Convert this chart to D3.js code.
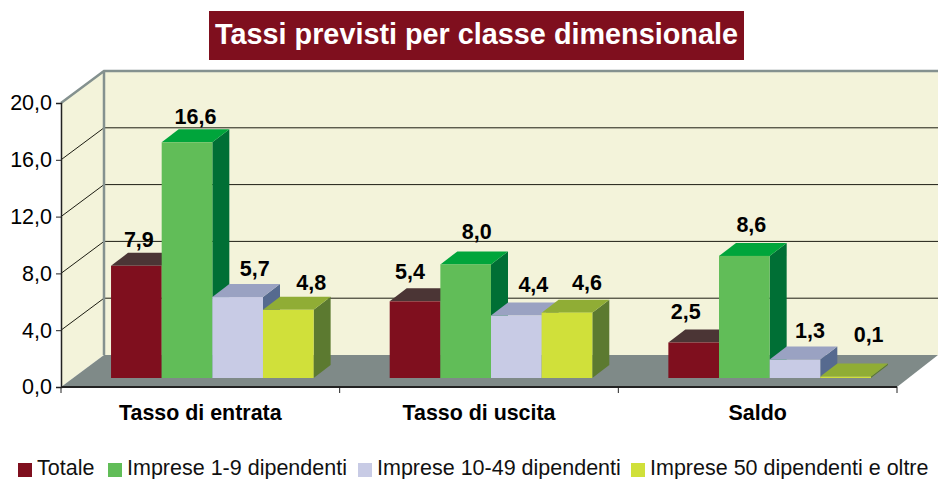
<!DOCTYPE html>
<html><head><meta charset="utf-8">
<script src="https://cdn.jsdelivr.net/npm/d3@7"></script>
<style>html,body{margin:0;padding:0;background:#fff}svg{display:block}text{font-family:"Liberation Sans",Arial,sans-serif}</style>
</head><body><div id="c"></div>
<script>
const titleText = "Tassi previsti per classe dimensionale";
const categories = ["Tasso di entrata","Tasso di uscita","Saldo"];
const seriesNames = ["Totale","Imprese 1-9 dipendenti","Imprese 10-49 dipendenti","Imprese 50 dipendenti e oltre"];
const totale = [7.9,5.4,2.5];
const imprese1 = [16.6,8.0,8.6];
const imprese10 = [5.7,4.4,1.3];
const imprese50 = [4.8,4.6,0.1];
const seriesValues = [totale,imprese1,imprese10,imprese50];
const yTicks = [0,4,8,12,16,20];
const frontColors = ["#7f0f1e","#61bd58","#c8cbe5","#d0e03a"];
const topColors = ["#4b3535","#00a53b","#9aa2c2","#90ad35"];
const sideColors = ["#4b3535","#006f35","#566a8f","#5c7a30"];
// hand-placed label nudges (px from the bar's top-front centre)
const labelDx = [[2.5,8.5,17,23],[-5,11,17,20],[-8,7,15,23]];
const labelDy = [[-19,-18,-21,-20],[-22,-25,-24,-23],[-24,-24,-22,-35]];
const legendX = [18,108,358,631];

const W=938,H=479;
const svg=d3.select("#c").append("svg").attr("width",W).attr("height",H);
const left=61,right=897,base=387,top20=103;
const wallDx=43,wallDy=-32,barShiftX=12,barShiftY=-9,barDx=17,barDy=-13;
const y=d3.scaleLinear().domain([0,20]).range([base,top20]);
const x0=d3.scaleBand().domain(categories).range([left,right]);
const barBlock=202.6;
const x1=d3.scaleBand().domain(d3.range(4)).range([0,barBlock]);
const pts=a=>a.map(p=>p.join(",")).join(" ");

svg.append("polygon").attr("points",pts([[left+wallDx,y(20)+wallDy],[W,y(20)+wallDy],[W,y(0)+wallDy],[left+wallDx,y(0)+wallDy]])).attr("fill","#f3f3da");
svg.append("polygon").attr("points",pts([[left,y(20)],[left+wallDx,y(20)+wallDy],[left+wallDx,y(0)+wallDy],[left,y(0)]])).attr("fill","#f3f3da");
svg.append("polygon").attr("points",pts([[left,base],[left+wallDx,base+wallDy],[W,base+wallDy],[right,base]])).attr("fill","#7f8a88");
yTicks.filter(t=>t>0&&t<20).forEach(t=>{
  svg.append("line").attr("x1",left+wallDx).attr("x2",W).attr("y1",y(t)+wallDy).attr("y2",y(t)+wallDy).attr("stroke","#1c1c12").attr("stroke-width",1);
  svg.append("line").attr("x1",left).attr("x2",left+wallDx).attr("y1",y(t)).attr("y2",y(t)+wallDy).attr("stroke","#1c1c12").attr("stroke-width",1);
});
const edge="#84918f";
svg.append("path").attr("d",`M${left},${y(20)}L${left+wallDx},${y(20)+wallDy}L${W},${y(20)+wallDy}M${left+wallDx},${y(20)+wallDy}L${left+wallDx},${y(0)+wallDy}`).attr("fill","none").attr("stroke",edge).attr("stroke-width",2.5);
const yAxis=d3.axisLeft(y).tickValues(yTicks).tickSize(5).tickFormat(d=>d3.format(".1f")(d).replace(".",","));
const ga=svg.append("g").attr("transform",`translate(${left},0)`).call(yAxis);
ga.selectAll("path").attr("stroke","#222").attr("stroke-width",1.5);
ga.selectAll("line").attr("stroke","#222");
ga.selectAll("text").attr("font-size",21.5).attr("fill","#000").attr("x",-9);
svg.append("line").attr("x1",left).attr("x2",right).attr("y1",base).attr("y2",base).attr("stroke","#222").attr("stroke-width",2);
[left,left+x0.step(),left+2*x0.step(),right].forEach(v=>svg.append("line").attr("x1",v).attr("x2",v).attr("y1",base).attr("y2",base+6).attr("stroke","#222"));
categories.forEach(c=>svg.append("text").attr("x",x0(c)+x0.bandwidth()/2).attr("y",420).attr("text-anchor","middle").attr("font-size",21.4).attr("font-weight","bold").attr("fill","#000").text(c));

categories.forEach((c,ci)=>{
  const gx=x0(c)+(x0.bandwidth()-barBlock)/2+barShiftX;
  seriesValues.forEach((vals,si)=>{
    const v=vals[ci],bx=gx+x1(si),bw=x1.bandwidth(),by0=y(0)+barShiftY,by=y(v)+barShiftY;
    const g=svg.append("g");
    g.append("polygon").attr("points",pts([[bx+bw,by],[bx+bw+barDx,by+barDy],[bx+bw+barDx,by0+barDy],[bx+bw,by0]])).attr("fill",sideColors[si]);
    g.append("polygon").attr("points",pts([[bx,by],[bx+barDx,by+barDy],[bx+bw+barDx,by+barDy],[bx+bw,by]])).attr("fill",topColors[si]);
    g.append("rect").attr("x",bx).attr("y",by).attr("width",bw).attr("height",by0-by).attr("fill",frontColors[si]);
  });
});
categories.forEach((c,ci)=>{
  const gx=x0(c)+(x0.bandwidth()-barBlock)/2+barShiftX;
  seriesValues.forEach((vals,si)=>{
    const v=vals[ci];
    svg.append("text").attr("x",gx+x1(si)+x1.bandwidth()/2+labelDx[ci][si]).attr("y",y(v)+barShiftY+labelDy[ci][si])
      .attr("text-anchor","middle").attr("font-size",21.5).attr("font-weight","bold").attr("fill","#000").text(d3.format(".1f")(v).replace(".",","));
  });
});
svg.append("rect").attr("x",209).attr("y",11).attr("width",535).attr("height",49).attr("fill","#7f0f1e");
svg.append("text").attr("x",476.5).attr("y",44).attr("text-anchor","middle").attr("font-size",28.8).attr("font-weight","bold").attr("fill","#fff").text(titleText);
seriesNames.forEach((n,i)=>{
  svg.append("rect").attr("x",legendX[i]).attr("y",463).attr("width",14).attr("height",14).attr("fill",frontColors[i]);
  svg.append("text").attr("x",legendX[i]+19).attr("y",474.5).attr("font-size",21.5).attr("fill","#111").text(n);
});
</script></body></html>
